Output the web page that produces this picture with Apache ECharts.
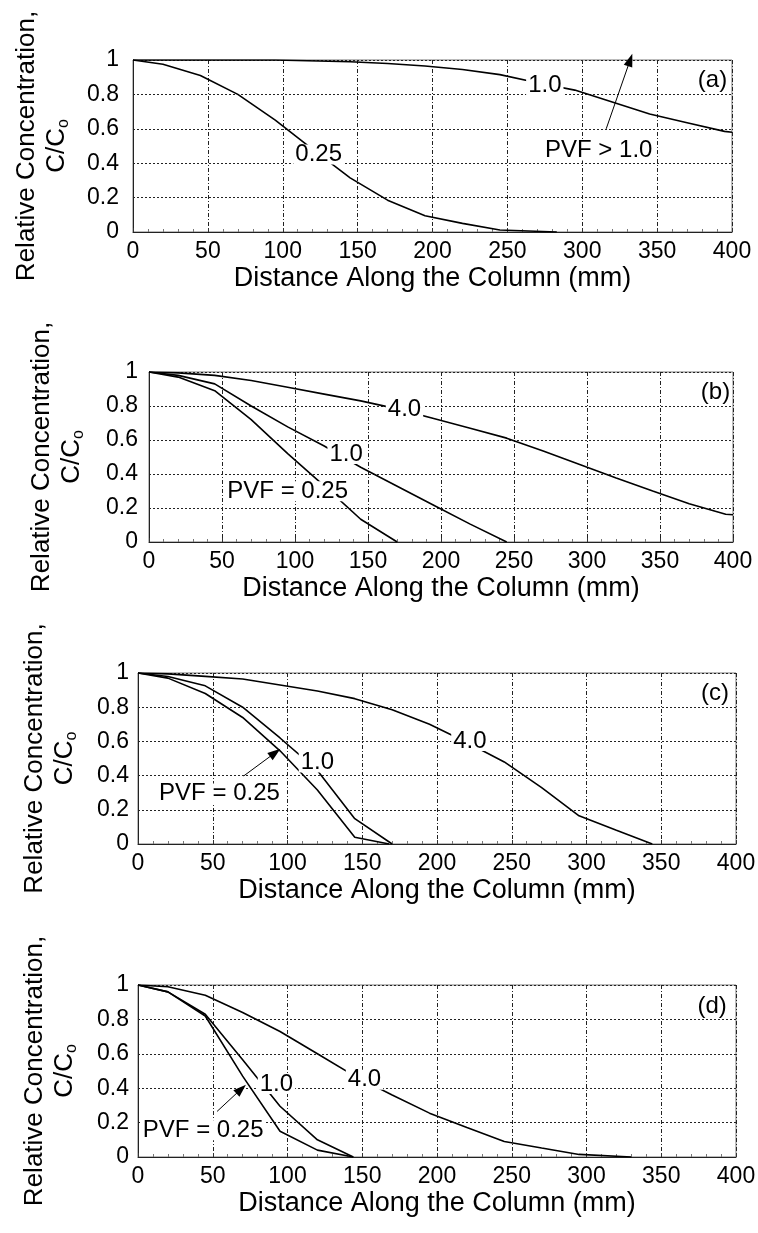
<!DOCTYPE html>
<html>
<head>
<meta charset="utf-8">
<title>Relative concentration along the column</title>
<script src="https://cdn.jsdelivr.net/npm/echarts@6/dist/echarts.min.js"></script>
<style>
  html, body { margin: 0; padding: 0; background: #fff; }
  #main { width: 758px; height: 1233px; }
</style>
</head>
<body>
<div id="main"></div>
<script>
// axis ticks
var xTicks = [0, 50, 100, 150, 200, 250, 300, 350, 400];
var yTicks = [0, 0.2, 0.4, 0.6, 0.8, 1];
var xTitle = 'Distance Along the Column (mm)';

// (a) curves, [distance mm, C/C0]
var a_pvf025 = [[0,1],[20,0.975],[45,0.91],[70,0.80],[95,0.65],[120,0.48],[145,0.315],[170,0.185],[195,0.095],[220,0.05],[245,0.012],[283,0]];
var a_pvf10 = [[0,1],[95,1],[145,0.99],[170,0.98],[195,0.965],[220,0.945],[245,0.915],[270,0.868],[295,0.825],[320,0.756],[345,0.686],[370,0.635],[395,0.585],[400,0.58]];

// (b)
var b_pvf025 = [[0,1],[20,0.97],[45,0.89],[70,0.72],[95,0.52],[120,0.33],[145,0.134],[170,0]];
var b_pvf10 = [[0,1],[20,0.98],[45,0.93],[70,0.80],[95,0.677],[120,0.565],[145,0.44],[170,0.328],[195,0.216],[220,0.105],[245,0]];
var b_pvf40 = [[0,1],[20,0.995],[45,0.98],[70,0.95],[95,0.91],[120,0.87],[145,0.83],[170,0.783],[195,0.726],[220,0.669],[245,0.611],[270,0.535],[295,0.456],[320,0.377],[345,0.30],[370,0.225],[395,0.163],[400,0.16]];

// (c)
var c_pvf025 = [[0,1],[20,0.97],[45,0.88],[70,0.74],[95,0.545],[120,0.316],[145,0.04],[168,0]];
var c_pvf10 = [[0,1],[20,0.98],[45,0.925],[70,0.80],[95,0.62],[120,0.43],[145,0.148],[170,0]];
var c_pvf40 = [[0,1],[20,0.995],[45,0.98],[70,0.965],[95,0.93],[120,0.895],[145,0.85],[170,0.785],[195,0.70],[220,0.594],[245,0.48],[270,0.33],[295,0.165],[320,0.08],[344,0]];

// (d)
var d_pvf025 = [[0,1],[20,0.96],[45,0.82],[70,0.47],[95,0.15],[120,0.04],[144,0]];
var d_pvf10 = [[0,1],[20,0.96],[45,0.83],[70,0.565],[95,0.295],[120,0.10],[144,0]];
var d_pvf40 = [[0,1],[20,0.99],[45,0.94],[70,0.84],[95,0.73],[120,0.60],[145,0.47],[170,0.36],[195,0.255],[220,0.172],[245,0.09],[270,0.052],[295,0.015],[330,0]];

// text on the curves: [text, x, y]
var a_notes = [['0.25',124,0.45],['1.0',275,0.855],['PVF > 1.0',311,0.474],['(a)',387,0.88]];
var b_notes = [['4.0',175,0.78],['1.0',135,0.517],['PVF = 0.25',95,0.298],['(b)',388,0.88]];
var c_notes = [['4.0',222,0.602],['1.0',120,0.476],['PVF = 0.25',54.5,0.295],['(c)',386,0.88]];
var d_notes = [['4.0',151.5,0.449],['1.0',92.6,0.424],['PVF = 0.25',43.6,0.156],['(d)',384,0.878]];

// arrows: [x from, y from, x to, y to]
var a_arrows = [[316,0.60,332,1.0]];
var c_arrows = [[70.7,0.398,91.8,0.534]];
var d_arrows = [[52.9,0.265,69,0.395]];

var FONT = '"Liberation Sans", Arial, Helvetica, sans-serif';

var panels = [
  {box: {left: 133, top: 60, width: 599, height: 172}, curves: [a_pvf025, a_pvf10], notes: a_notes, arrows: a_arrows, yMargin: 14, yGap: 61},
  {box: {left: 149, top: 372, width: 584, height: 170}, curves: [b_pvf025, b_pvf10, b_pvf40], notes: b_notes, arrows: [], yMargin: 11, yGap: 62},
  {box: {left: 138, top: 673, width: 598, height: 171}, curves: [c_pvf025, c_pvf10, c_pvf40], notes: c_notes, arrows: c_arrows, yMargin: 9, yGap: 58},
  {box: {left: 138, top: 985, width: 598, height: 172}, curves: [d_pvf025, d_pvf10, d_pvf40], notes: d_notes, arrows: d_arrows, yMargin: 9, yGap: 58}
];

var option = {
  animation: false,
  backgroundColor: '#fff',
  textStyle: {fontFamily: FONT},
  grid: [],
  xAxis: [],
  yAxis: [],
  series: []
};

panels.forEach(function (p, i) {
  option.grid.push({
    left: p.box.left, top: p.box.top, width: p.box.width, height: p.box.height,
    show: true, borderColor: '#777', borderWidth: 1,
    containLabel: false, outerBoundsMode: 'none'
  });
  option.xAxis.push({
    type: 'value', gridIndex: i,
    min: xTicks[0], max: xTicks[xTicks.length - 1], interval: xTicks[1] - xTicks[0],
    name: xTitle, nameLocation: 'middle', nameGap: 32, nameMoveOverlap: false,
    nameTextStyle: {fontSize: 27, color: '#000', fontFamily: FONT, lineHeight: 30},
    axisLine: {show: true, onZero: false, lineStyle: {color: '#222', width: 1}},
    axisTick: {show: true, inside: true, length: 4, lineStyle: {color: '#333'}},
    minorTick: {show: true, splitNumber: 5, length: 3, lineStyle: {color: '#777'}},
    axisLabel: {fontSize: 23, color: '#000', margin: 8, fontFamily: FONT},
    splitLine: {show: true, lineStyle: {color: '#222', width: 1, type: [4, 2, 1, 2]}}
  });
  option.yAxis.push({
    type: 'value', gridIndex: i,
    min: yTicks[0], max: yTicks[yTicks.length - 1], interval: yTicks[1] - yTicks[0],
    name: '{t|Relative Concentration,}\n{t|C/C}{s|o}',
    nameLocation: 'middle', nameRotate: 90, nameGap: p.yGap, nameMoveOverlap: false,
    nameTextStyle: {
      color: '#000', fontFamily: FONT,
      rich: {
        t: {fontSize: 26, lineHeight: 30, color: '#000', fontFamily: FONT},
        s: {fontSize: 16, lineHeight: 30, verticalAlign: 'bottom', color: '#000', fontFamily: FONT}
      }
    },
    axisLine: {show: true, onZero: false, lineStyle: {color: '#222', width: 1}},
    axisTick: {show: false},
    axisLabel: {fontSize: 23, color: '#000', margin: p.yMargin, fontFamily: FONT},
    splitLine: {show: true, lineStyle: {color: '#222', width: 1, type: [2, 2]}}
  });

  p.curves.forEach(function (curve, k) {
    var s = {
      type: 'line', xAxisIndex: i, yAxisIndex: i,
      data: curve, showSymbol: false, symbol: 'none', silent: true,
      lineStyle: {color: '#000', width: 1.6}
    };
    if (k === 0) {
      s.markPoint = {
        silent: true, symbol: 'circle', symbolSize: 2,
        itemStyle: {color: 'rgba(0,0,0,0)'},
        label: {
          show: true, position: 'inside', color: '#000', fontSize: 24, fontFamily: FONT,
          backgroundColor: '#fff', padding: [0, 2], lineHeight: 20,
          formatter: function (prm) { return prm.name; }
        },
        data: p.notes.map(function (n) { return {name: n[0], coord: [n[1], n[2]]}; })
      };
      if (p.arrows.length) {
        s.markLine = {
          silent: true, animation: false,
          lineStyle: {color: '#000', width: 1, type: 'solid'},
          label: {show: false},
          data: p.arrows.map(function (a) {
            return [
              {coord: [a[0], a[1]], symbol: 'none'},
              {coord: [a[2], a[3]], symbol: 'triangle', symbolSize: [9, 13]}
            ];
          })
        };
      }
    }
    option.series.push(s);
  });
});

var chart = echarts.init(document.getElementById('main'));
chart.setOption(option);
</script>
</body>
</html>
